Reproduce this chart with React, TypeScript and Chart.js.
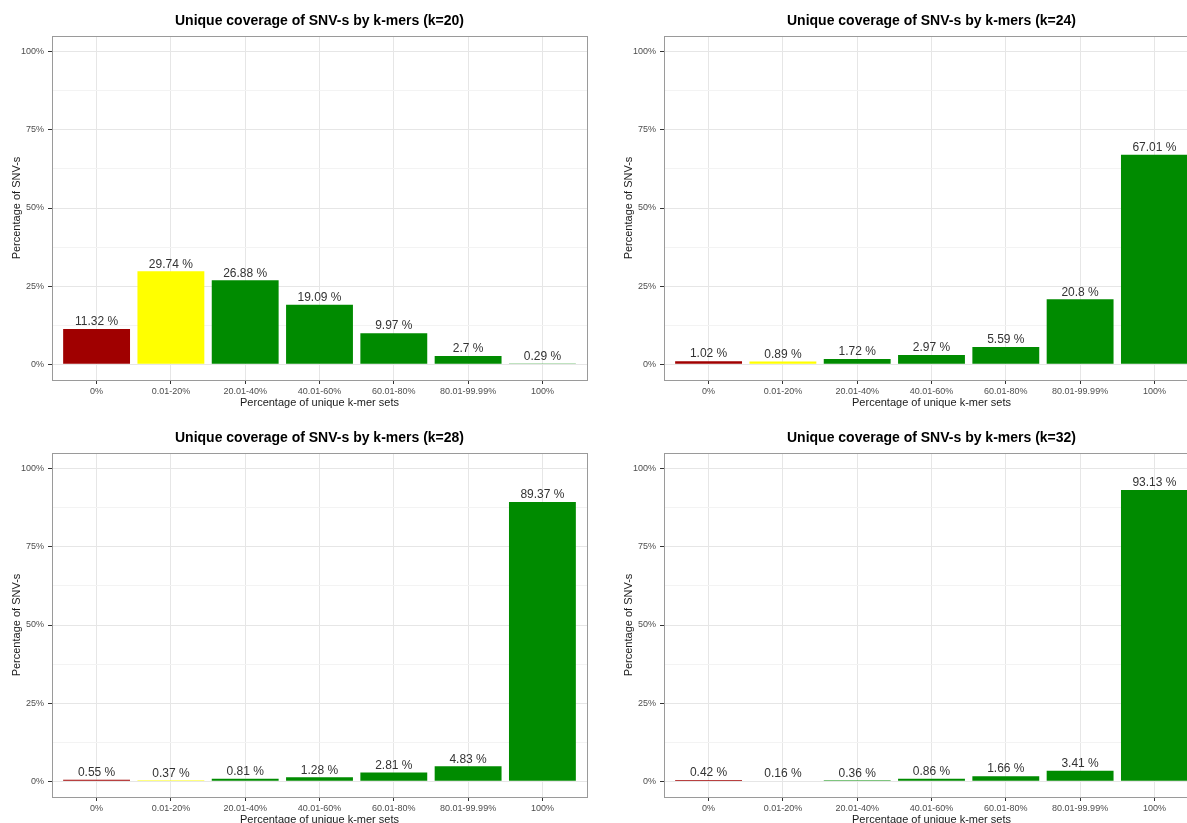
import React, { useEffect, useRef } from "react";
import { Chart, registerables } from "chart.js";

Chart.register(...registerables);

const categories = ["0%", "0.01-20%", "20.01-40%", "40.01-60%", "60.01-80%", "80.01-99.99%", "100%"];
const barColors = ["#a00000", "#ffff00", "#008b00", "#008b00", "#008b00", "#008b00", "#008b00"];

const valuesK20 = [11.32, 29.74, 26.88, 19.09, 9.97, 2.7, 0.29];
const valuesK24 = [1.02, 0.89, 1.72, 2.97, 5.59, 20.8, 67.01];
const valuesK28 = [0.55, 0.37, 0.81, 1.28, 2.81, 4.83, 89.37];
const valuesK32 = [0.42, 0.16, 0.36, 0.86, 1.66, 3.41, 93.13];

const yTicks = [0, 12.5, 25, 37.5, 50, 62.5, 75, 87.5, 100];
const yTickLabels: Record<string, string> = { "0": "0%", "25": "25%", "50": "50%", "75": "75%", "100": "100%" };

const panels = [
  { k: 20, values: valuesK20 },
  { k: 24, values: valuesK24 },
  { k: 28, values: valuesK28 },
  { k: 32, values: valuesK32 },
];

const PANEL_W = 612;
const PANEL_H = 417;
const FONT = "Arial, 'Liberation Sans', sans-serif";

const overlayPlugin = {
  id: "overlay",
  afterDatasetsDraw(chart: any) {
    const ctx = chart.ctx;
    const meta = chart.getDatasetMeta(0);
    const data = chart.data.datasets[0].data;
    ctx.save();
    ctx.font = `12px ${FONT}`;
    ctx.fillStyle = "#333333";
    ctx.textAlign = "center";
    ctx.textBaseline = "bottom";
    meta.data.forEach((bar: any, i: number) => {
      const v = data[i].y;
      ctx.fillText(`${v} %`, bar.x, bar.y - 1);
    });
    ctx.restore();
  },
  afterDraw(chart: any) {
    const ctx = chart.ctx;
    const a = chart.chartArea;
    ctx.save();
    ctx.strokeStyle = "#9a9a9a";
    ctx.lineWidth = 1;
    ctx.strokeRect(Math.round(a.left) + 0.5, Math.round(a.top) + 0.5, Math.round(a.right - a.left), Math.round(a.bottom - a.top));
    ctx.font = `bold 14px ${FONT}`;
    ctx.fillStyle = "#000000";
    ctx.textAlign = "center";
    ctx.textBaseline = "middle";
    ctx.fillText(chart.options.plugins.overlay.title, (a.left + a.right) / 2, 21);
    ctx.restore();
  },
};

function Panel({ k, values }: { k: number; values: number[] }) {
  const ref = useRef<HTMLCanvasElement>(null);
  useEffect(() => {
    if (!ref.current) return;
    const chart = new Chart(ref.current, {
      type: "bar",
      data: {
        datasets: [
          {
            data: values.map((v, i) => ({ x: i, y: v })),
            backgroundColor: barColors,
            borderWidth: 0,
            barPercentage: 0.9,
            categoryPercentage: 1,
          },
        ],
      },
      options: {
        responsive: false,
        animation: false,
        devicePixelRatio: 1,
        layout: { padding: { top: 36, right: 25, left: 0, bottom: 0 } },
        plugins: {
          legend: { display: false },
          tooltip: { enabled: false },
          overlay: { title: `Unique coverage of SNV-s by k-mers (k=${k})` },
        } as any,
        scales: {
          x: {
            type: "linear",
            min: -0.6,
            max: 6.6,
            offset: false,
            afterBuildTicks: (s: any) => {
              s.ticks = categories.map((_, i) => ({ value: i }));
            },
            afterFit: (s: any) => {
              s.height = 37;
            },
            ticks: {
              autoSkip: false,
              maxRotation: 0,
              padding: 2,
              color: "#4d4d4d",
              font: { size: 9, family: FONT },
              callback: (v: any) => categories[v] ?? "",
            },
            grid: {
              offset: false,
              color: "#e6e6e6",
              lineWidth: 1,
              tickLength: 4,
              tickColor: "#333333",
              drawOnChartArea: true,
            },
            border: { display: false },
            title: {
              display: true,
              text: "Percentage of unique k-mer sets",
              color: "#1a1a1a",
              font: { size: 11, family: FONT },
              padding: { top: 0, bottom: 7 },
            },
          },
          y: {
            type: "linear",
            min: -5,
            max: 105,
            afterBuildTicks: (s: any) => {
              s.ticks = yTicks.map((v) => ({ value: v }));
            },
            afterFit: (s: any) => {
              s.width = 52;
            },
            ticks: {
              padding: 4,
              color: "#4d4d4d",
              font: { size: 9, family: FONT },
              callback: (v: any) => yTickLabels[String(v)] ?? "",
            },
            grid: {
              color: (c: any) => (c.tick && c.tick.value % 25 === 0 ? "#e6e6e6" : "#f3f3f3"),
              lineWidth: 1,
              tickLength: 4,
              tickColor: (c: any) => (c.tick && c.tick.value % 25 === 0 ? "#333333" : "rgba(0,0,0,0)"),
            },
            border: { display: false },
            title: {
              display: true,
              text: "Percentage of SNV-s",
              color: "#1a1a1a",
              font: { size: 11, family: FONT },
              padding: { top: 10, bottom: 0 },
            },
          },
        },
      },
      plugins: [overlayPlugin],
    });
    return () => chart.destroy();
  }, [k, values]);
  return <canvas ref={ref} width={PANEL_W} height={PANEL_H} style={{ display: "block", width: PANEL_W, height: PANEL_H }} />;
}

export default function App() {
  return (
    <div style={{ position: "absolute", left: 0, top: 0, width: 1187, height: 823, overflow: "hidden", background: "#ffffff" }}>
      {panels.map((p, i) => (
        <div
          key={p.k}
          style={{ position: "absolute", left: (i % 2) * PANEL_W, top: Math.floor(i / 2) * PANEL_H, width: PANEL_W, height: PANEL_H }}
        >
          <Panel k={p.k} values={p.values} />
        </div>
      ))}
    </div>
  );
}
